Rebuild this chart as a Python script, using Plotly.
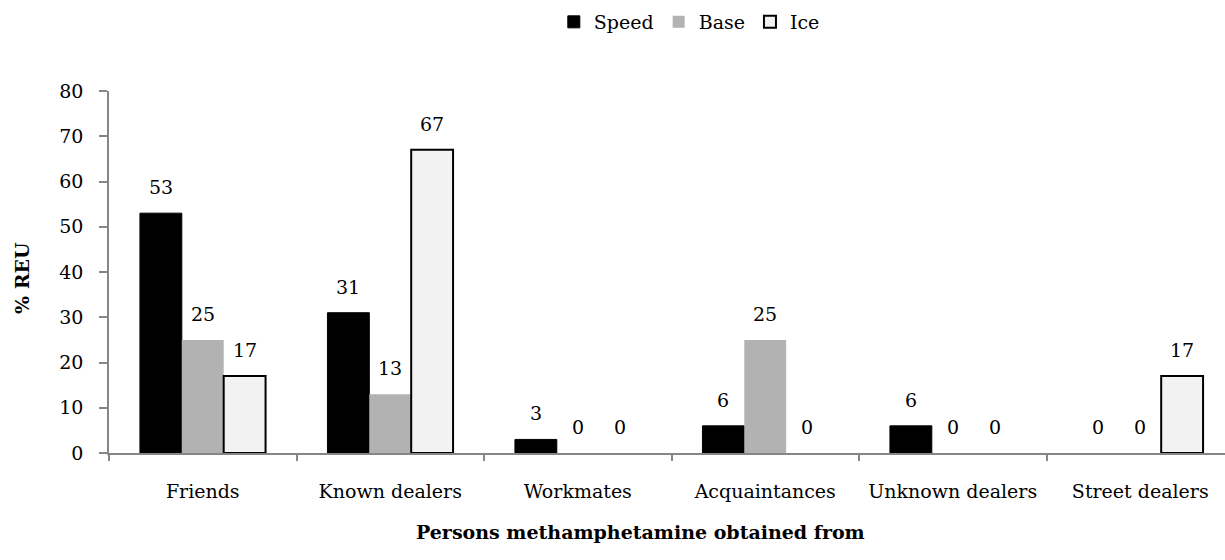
import plotly.graph_objects as go

categories = ["Friends", "Known dealers", "Workmates", "Acquaintances",
              "Unknown dealers", "Street dealers"]
speed = [53, 31, 3, 6, 6, 0]
base = [25, 13, 0, 25, 0, 0]
ice = [17, 67, 0, 0, 0, 17]
series_names = ["Speed", "Base", "Ice"]
y_ticks = [0, 10, 20, 30, 40, 50, 60, 70, 80]

FONT = "DejaVu Serif"
FS = 19
AXIS_GREY = "#868686"

styles = [
    dict(fill="#000000", line="#000000", width=1),
    dict(fill="#b2b2b2", line="#b2b2b2", width=0),
    dict(fill="#f2f2f2", line="#000000", width=2),
]

fig = go.Figure()
for name, vals, st in zip(series_names, [speed, base, ice], styles):
    fig.add_trace(go.Bar(
        name=name, x=categories, y=vals,
        marker=dict(color=st["fill"],
                    line=dict(color=st["line"],
                              width=[st["width"] if v > 0 else 0 for v in vals])),
    ))

# value labels above each bar
bargap = 0.33
bar_w = (1 - bargap) / 3
annotations = []
for k, vals in enumerate([speed, base, ice]):
    for i, v in enumerate(vals):
        annotations.append(dict(
            x=i + (k - 1) * bar_w, y=v, xref="x", yref="y",
            text=str(v), showarrow=False, yshift=26,
            font=dict(family=FONT, size=FS, color="#000000"),
        ))

annotations.append(dict(
    x=22, y=278, xref="paper", yref="paper", text="<b>% REU</b>",
    showarrow=False, textangle=-90, xanchor="center", yanchor="middle",
    font=dict(family=FONT, size=FS, color="#000000"),
))
annotations.append(dict(
    x=640, y=532, xref="paper", yref="paper",
    text="<b>Persons methamphetamine obtained from</b>", showarrow=False,
    xanchor="center", yanchor="middle",
    font=dict(family=FONT, size=FS, color="#000000"),
))

# convert pixel placements of the axis titles into paper fractions
W, H = 1225, 560
ml, mr, mt, mb = 109, 0, 91, 107
pw, ph = W - ml - mr, H - mt - mb
for a in annotations[-2:]:
    a["x"] = (a["x"] - ml) / pw
    a["y"] = (H - a["y"] - mb) / ph

fig.update_layout(
    width=W, height=H,
    margin=dict(l=ml, r=mr, t=mt, b=mb, pad=0),
    paper_bgcolor="white", plot_bgcolor="white",
    barmode="group", bargap=bargap, bargroupgap=0,
    font=dict(family=FONT, size=FS, color="#000000"),
    annotations=annotations,
    showlegend=True,
    legend=dict(orientation="h", x=0.52, xanchor="center", y=1.0 + 69 / ph,
                yanchor="middle", font=dict(family=FONT, size=FS),
                itemwidth=30, traceorder="normal"),
    xaxis=dict(
        type="category", range=[-0.5, -0.5 + pw / 187.5],
        showline=True, linecolor=AXIS_GREY, linewidth=1.5,
        ticks="outside", tickson="boundaries", ticklen=6,
        tickcolor=AXIS_GREY, tickwidth=1.5, ticklabelstandoff=20,
        showgrid=False, zeroline=False,
        tickfont=dict(family=FONT, size=FS, color="#000000"),
    ),
    yaxis=dict(
        range=[0, 80], tickvals=y_ticks, showline=True, linecolor=AXIS_GREY,
        linewidth=1.5, ticks="outside", ticklen=8, tickcolor=AXIS_GREY,
        tickwidth=1.5, ticklabelstandoff=12, showgrid=False, zeroline=False,
        tickfont=dict(family=FONT, size=FS, color="#000000"),
    ),
)

fig.write_html("out.html")
